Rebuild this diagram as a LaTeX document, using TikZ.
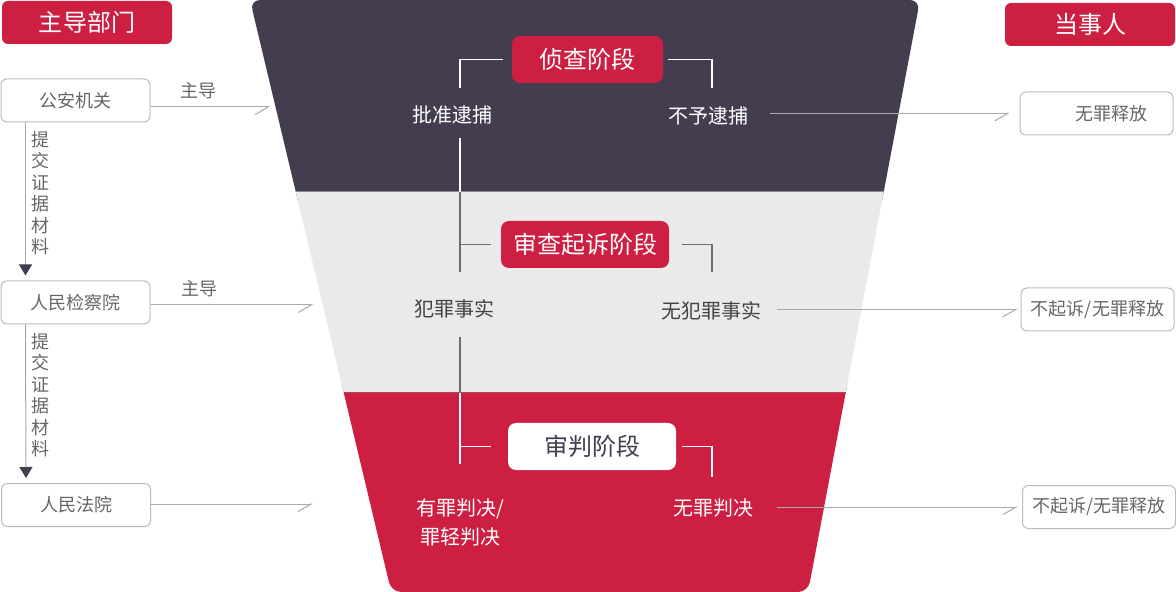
\documentclass[tikz,border=0pt]{standalone}
\usepackage{fontspec}
\setmainfont{Noto Sans CJK SC}
\usetikzlibrary{arrows.meta}
\definecolor{funneldark}{HTML}{433D4F}
\definecolor{funnelred}{HTML}{CC1F41}
\definecolor{funnelgray}{HTML}{EBEAEA}
\definecolor{boxgray}{HTML}{BBBBBB}
\definecolor{textgray}{HTML}{666666}
\definecolor{darktext}{HTML}{444444}
\definecolor{linegray}{HTML}{AAAAAA}
\definecolor{spinegray}{HTML}{6E6B78}
\newcommand{\bigfont}{\fontsize{12pt}{14pt}\selectfont}
\newcommand{\midfont}{\fontsize{10pt}{14.5pt}\selectfont}
\newcommand{\smallfont}{\fontsize{9pt}{10.75pt}\selectfont}
\tikzstyle{headbox} = [rectangle, rounded corners=3pt, minimum width=85pt, minimum height=21.5pt, fill=funnelred, text=white, font=\bigfont]
\tikzstyle{deptbox} = [rectangle, rounded corners=3pt, minimum width=74.5pt, minimum height=21.5pt, draw=boxgray, line width=0.5pt, text=textgray, font=\smallfont]
\tikzstyle{partybox} = [deptbox, minimum width=76.5pt]
\tikzstyle{stagebox} = [rectangle, rounded corners=4pt, minimum width=84pt, minimum height=23.5pt, font=\bigfont]
\tikzstyle{result} = [inner sep=0pt, font=\midfont, align=center]
\tikzstyle{leadlabel} = [above=4pt, inner sep=0pt, text=textgray, font=\smallfont]
\tikzstyle{passlabel} = [anchor=north west, inner sep=0pt, xshift=3pt, yshift=-4pt, align=left, text=textgray, font=\smallfont]
\tikzstyle{wline} = [draw=white, line width=0.6pt]
\tikzstyle{gline} = [draw=spinegray, line width=0.6pt]
\tikzstyle{leadarrow} = [draw=linegray, line width=0.5pt, -{Straight Barb[right, length=6.5pt, width=7.5pt]}]
\tikzstyle{passarrow} = [draw=linegray, line width=0.5pt, -{Triangle[length=5.5pt, width=6.5pt, fill=funneldark, color=funneldark]}]

\begin{document}
\begin{tikzpicture}[x=0.5pt, y=-0.5pt]
	\useasboundingbox (0,0) rectangle (1176,592);

	% funnel
	\fill [funneldark, rounded corners=5pt] (250,0) -- (920,0) -- (880.3,210) -- (300.1,210) -- cycle;
	\fill [funnelred, rounded corners=5pt] (339.5,375) -- (849.05,375) -- (808,592) -- (391.3,592) -- cycle;
	\fill [funnelgray] (295.8,192) -- (883.7,192) -- (845.6,393) -- (343.8,393) -- cycle;
	\draw [spinegray!80, line width=0.5pt] (295.8,192) -- (883.7,192);
	\draw [funnelred!60!gray, line width=0.5pt] (343.8,393) -- (845.6,393);

	\coordinate (spineL) at (460,0);
	\coordinate (spineR) at (712,0);
	\coordinate (band1) at (0,192);
	\coordinate (band2) at (0,393);
	\coordinate (tip1) at (270,107);
	\coordinate (tip2) at (313,305);
	\coordinate (tip3) at (313,504);

	\node (head1) [headbox] at (87,22.5) {主导部门};
	\node (head2) [headbox] at (1090,24.5) {当事人};
	\node (dep1) [deptbox] at (75.5,100.5) {公安机关};
	\node (dep2) [deptbox] at (75.5,302.5) {人民检察院};
	\node (dep3) [deptbox] at (76,505) {人民法院};
	\node (out1) [partybox] at (1096.5,113.5) {\hspace{15pt}无罪释放};
	\node (out2) [partybox] at (1097.5,309.5) {不起诉/无罪释放};
	\node (out3) [partybox] at (1099,507) {不起诉/无罪释放};

	\node (stg1) [stagebox, fill=funnelred, text=white, minimum width=75.5pt] at (587.5,59.5) {侦查阶段};
	\node (stg2) [stagebox, fill=funnelred, text=white] at (585,244.5) {审查起诉阶段};
	\node (stg3) [stagebox, fill=white, text=funneldark] at (592,446.5) {审判阶段};
	\node (res1a) [result, text=white] at (452.5,115) {批准逮捕};
	\node (res1b) [result, text=white] at (708.5,116) {不予逮捕};
	\node (res2a) [result, text=darktext] at (454.5,309) {犯罪事实};
	\node (res2b) [result, text=darktext] at (711,311) {无犯罪事实};
	\node (res3a) [result, text=white] at (460,522.5) {有罪判决/\\罪轻判决};
	\node (res3b) [result, text=white] at (713,508) {无罪判决};

	\draw [wline, shorten <=4.5pt, shorten >=8.5pt] (stg1.west) -| (spineL |- res1a.north);
	\draw [wline, shorten <=2.5pt, shorten >=9pt] (stg1.east) -| (spineR |- res1b.north);
	\draw [wline, shorten <=6.5pt] (spineL |- res1a.south) -- (spineL |- band1);
	\draw [gline, shorten >=13.5pt] (spineL |- band1) -- (spineL |- res2a.north);
	\draw [gline, shorten >=5pt] (spineL |- stg2.west) -- (stg2.west);
	\draw [gline, shorten <=6.5pt, shorten >=14.5pt] (stg2.east) -| (spineR |- res2b.north);
	\draw [gline, shorten <=9pt] (spineL |- res2a.south) -- (spineL |- band2);
	\draw [wline, shorten >=17pt] (spineL |- band2) -- (spineL |- res3a.north);
	\draw [wline, shorten >=8.5pt] (spineL |- stg3.west) -- (stg3.west);
	\draw [wline, shorten <=3pt, shorten >=10.5pt] (stg3.east) -| (spineR |- res3b.north);

	\draw [leadarrow, shorten <=10.5pt, shorten >=5pt] (res1b.east |- out1.west) -- (out1.west);
	\draw [leadarrow, shorten <=8pt, shorten >=1.5pt] (res2b.east |- out2.west) -- (out2.west);
	\draw [leadarrow, shorten <=12pt, shorten >=2pt] (res3b.east |- out3.west) -- (out3.west);

	\draw [leadarrow] (dep1.east |- tip1) -- node[leadlabel, pos=0.4] {主导} (tip1);
	\draw [leadarrow] (dep2.east |- tip2) -- node[leadlabel, pos=0.3] {主导} (tip2);
	\draw [leadarrow] (dep3.east |- tip3) -- (tip3);

	\draw [passarrow, shorten >=2.5pt] ([xshift=12.5pt]dep1.south west) node[passlabel] {提\\交\\证\\据\\材\\料} -- ([xshift=12.5pt]dep2.north west);
	\draw [passarrow, shorten >=2.5pt] ([xshift=12.5pt]dep2.south west) node[passlabel] {提\\交\\证\\据\\材\\料} -- ([xshift=12.5pt]dep3.north west);

\end{tikzpicture}
\end{document}
